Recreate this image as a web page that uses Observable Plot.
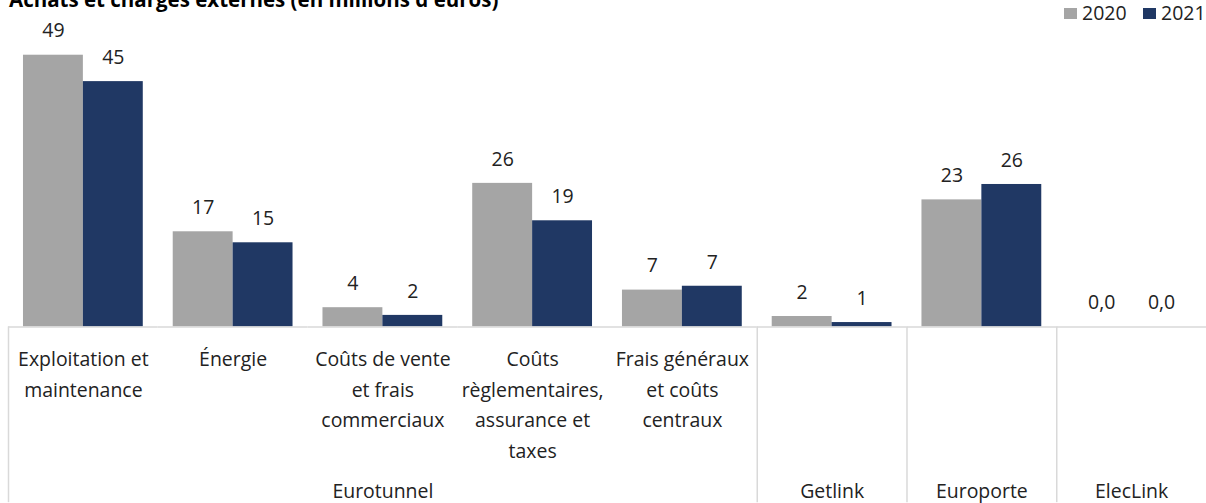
<!DOCTYPE html>
<html>
<head>
<meta charset="utf-8">
<script src="https://cdn.jsdelivr.net/npm/d3@7"></script>
<script src="https://cdn.jsdelivr.net/npm/@observablehq/plot@0.6"></script>
<style>
  html, body { margin: 0; padding: 0; background: #fff; overflow: hidden; width: 1206px; height: 503px; }
  #wrap { position: relative; width: 1206px; height: 503px; overflow: hidden; font-family: "Open Sans", sans-serif; }
  #title { position: absolute; left: 9px; top: -15px; font-weight: bold; font-size: 20.5px; color: #000; white-space: nowrap; }
  #legend { position: absolute; top: 0; left: 0; width: 1206px; height: 30px; }
  .sw { position: absolute; width: 13px; height: 11px; top: 8px; }
  .lt { position: absolute; top: 0; font-size: 19.5px; color: #222; line-height: 25px; }
  #chart { position: absolute; left: 0; top: 0; }
</style>
</head>
<body>
<div id="wrap">
  <div id="chart"></div>
  <div id="title"></div>
  <div id="legend"></div>
</div>
<script>
// ---- data ----
const titleText = "Achats et charges externes (en millions d'euros)";
const categories = ["exploitation", "energie", "vente", "reglementaires", "frais", "getlink", "europorte", "eleclink"];
const categoryLabels = [
  "Exploitation et\nmaintenance",
  "Énergie",
  "Coûts de vente\net frais\ncommerciaux",
  "Coûts\nrèglementaires,\nassurance et\ntaxes",
  "Frais généraux\net coûts\ncentraux",
  "", "", ""
];
const categoryGroups = ["Eurotunnel", "Eurotunnel", "Eurotunnel", "Eurotunnel", "Eurotunnel", "Getlink", "Europorte", "ElecLink"];
const years = ["2020", "2021"];
const values2020 = [49.4, 17.3, 3.5, 26.1, 6.7, 1.9, 23.1, 0];
const values2021 = [44.6, 15.3, 2.1, 19.3, 7.4, 0.8, 25.9, 0];
const yearColors = ["#a5a5a5", "#203864"];

// ---- build table ----
const rows = [];
categories.forEach((c, i) => {
  rows.push({cat: c, year: years[0], value: values2020[i]});
  rows.push({cat: c, year: years[1], value: values2021[i]});
});
const labelOf = new Map(categories.map((c, i) => [c, categoryLabels[i]]));
// group label sits under the middle category of each group
const groupNames = [...new Set(categoryGroups)];
const groupMid = new Map();
const groupFirst = [];
groupNames.forEach(g => {
  const idx = categoryGroups.map((d, i) => d === g ? i : -1).filter(i => i >= 0);
  groupMid.set(categories[idx[Math.floor(idx.length / 2)]], g);
  groupFirst.push(categories[idx[0]]);
});
const fmt = v => v === 0 ? "0,0" : String(Math.round(v));

const plot = Plot.plot({
  width: 1208,
  height: 503,
  marginLeft: 8,
  marginRight: 0,
  marginTop: 51.5,
  marginBottom: 176,
  style: {fontFamily: "Open Sans, sans-serif", background: "transparent", overflow: "visible"},
  fx: {domain: categories, padding: 0, axis: null},
  x: {domain: years, paddingInner: 0, paddingOuter: 0.25, axis: null},
  y: {domain: [0, 50], axis: null},
  color: {domain: years, range: yearColors},
  marks: [
    Plot.barY(rows, {fx: "cat", x: "year", y: "value", fill: "year"}),
    Plot.ruleY([0], {stroke: "#d9d9d9", strokeWidth: 1.5}),
    Plot.text(rows, {fx: "cat", x: "year", y: "value", text: d => fmt(d.value), dy: -24, fontSize: 19.5, fill: "#222"}),
    Plot.axisFx({anchor: "bottom", tickSize: 0, tickPadding: 18, fontSize: 19.5, lineHeight: 1.56, label: null,
      tickFormat: d => labelOf.get(d), color: "#222"}),
    Plot.axisFx({ticks: [...groupMid.keys()], anchor: "bottom", tickSize: 0, tickPadding: 157, fontSize: 19.5, label: null,
      tickFormat: d => groupMid.get(d), color: "#222"})
  ]
});
document.getElementById("chart").appendChild(plot);

// group separators, drawn from the fx scale
const fx = plot.scale("fx");
const y = plot.scale("y");
const svg = d3.select(plot);
const y0 = y.apply(0);
groupFirst.forEach(c => {
  const xx = fx.apply(c) + 0.5;
  svg.append("line").attr("x1", xx).attr("x2", xx).attr("y1", y0).attr("y2", 503)
    .attr("stroke", "#d9d9d9").attr("stroke-width", 1.5);
});

document.getElementById("title").textContent = titleText;
const legend = document.getElementById("legend");
const legendX = [1064, 1143];
years.forEach((yr, i) => {
  const sw = document.createElement("div");
  sw.className = "sw"; sw.style.left = legendX[i] + "px"; sw.style.background = yearColors[i];
  const t = document.createElement("div");
  t.className = "lt"; t.style.left = (legendX[i] + 18) + "px"; t.textContent = yr;
  legend.appendChild(sw); legend.appendChild(t);
});
</script>
</body>
</html>
